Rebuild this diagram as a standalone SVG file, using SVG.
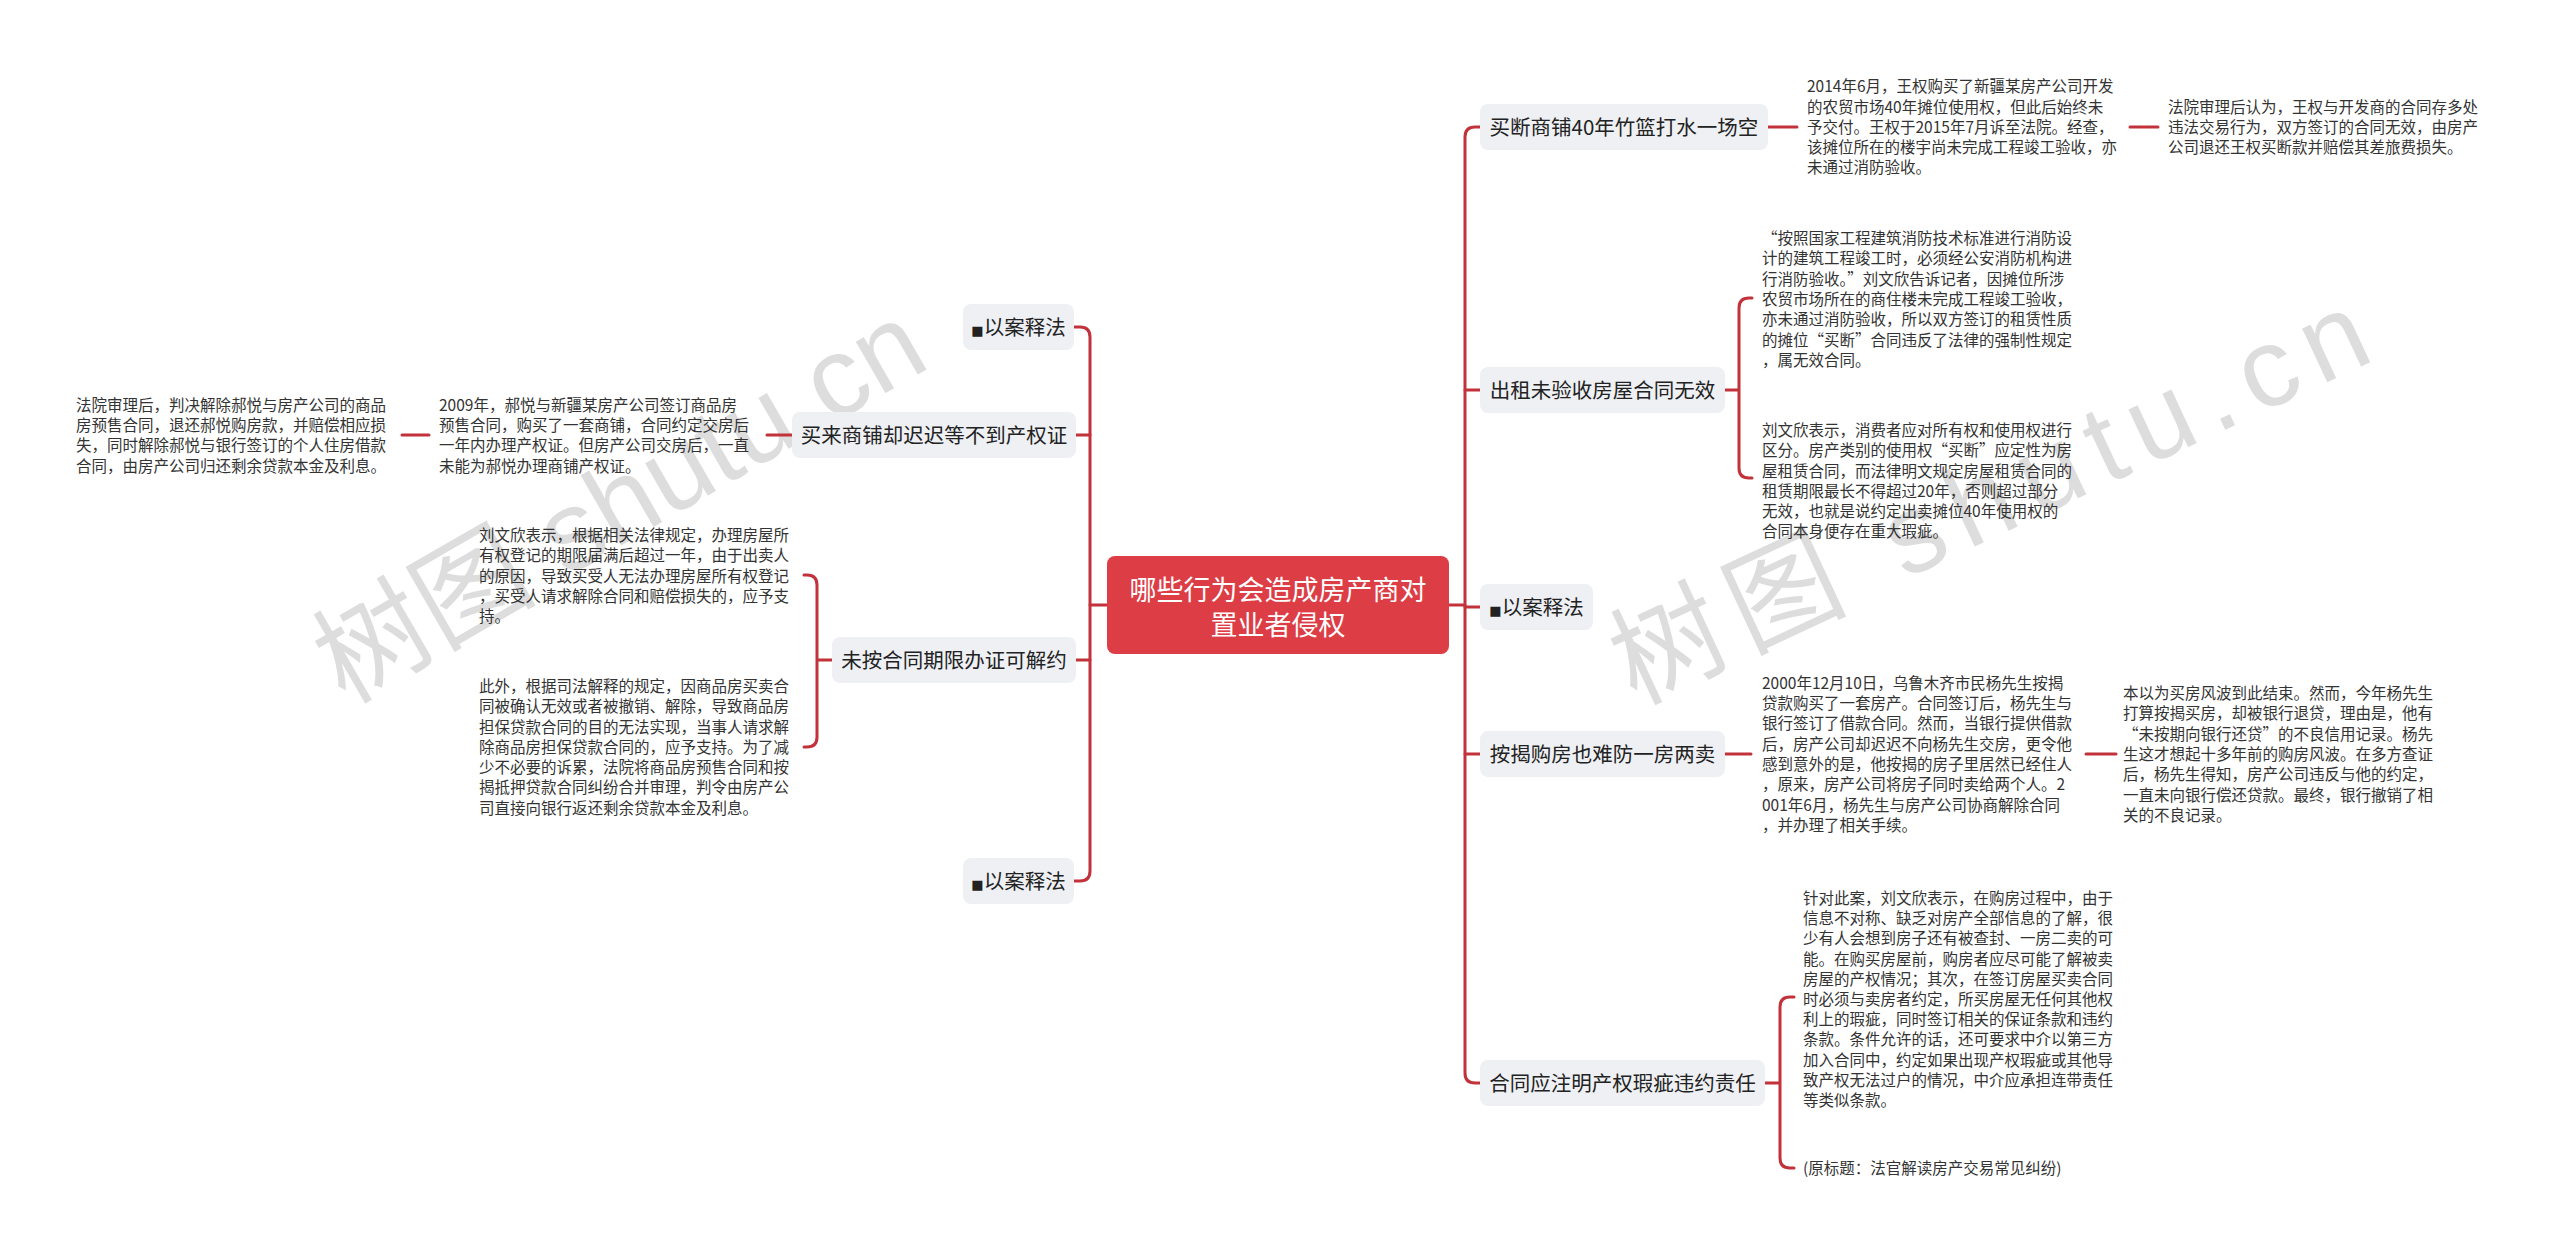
<svg xmlns="http://www.w3.org/2000/svg" width="2560" height="1255" viewBox="0 0 2560 1255">
<style>
.bg{fill:#ffffff}
.wm{font-family:"Liberation Sans","Noto Sans CJK SC",sans-serif;font-size:112px;fill:#d2d2d2;opacity:0.75}
.box{fill:#eef0f4}
.root{fill:#dd3d45}
.lbl{font-family:"Noto Sans CJK SC",sans-serif;font-size:20.5px;fill:#222;text-anchor:middle}
.sq{font-family:"DejaVu Sans",sans-serif;font-size:13px}
.rt{font-family:"Noto Sans CJK SC",sans-serif;font-size:27px;fill:#ffffff;text-anchor:middle}
.tx{font-family:"Noto Sans CJK SC",sans-serif;font-size:15.5px;fill:#333}
.ln{fill:none;stroke:#c1323b;stroke-width:3;stroke-linecap:round}
</style>
<rect class="bg" x="0" y="0" width="2560" height="1255"/>
<g id="watermarks">
<text class="wm" transform="translate(345,705) rotate(-30)">树图 shutu.cn</text>
<text class="wm" transform="translate(1635,705) rotate(-25)" letter-spacing="14">树图 shutu.cn</text>
</g>
<g id="connectors">
<path class="ln" d="M1449,605 H1465"/>
<path class="ln" d="M1480,127 H1475 Q1465,127 1465,137 V1073 Q1465,1083 1475,1083 H1480"/>
<path class="ln" d="M1465,390 H1480 M1465,607 H1480 M1465,754 H1480"/>
<path class="ln" d="M1107,605 H1090"/>
<path class="ln" d="M1074,327 H1080 Q1090,327 1090,337 V871 Q1090,881 1080,881 H1074"/>
<path class="ln" d="M1090,435 H1076 M1090,660 H1076"/>
<path class="ln" d="M1768,127 H1797 M2130,127 H2158"/>
<path class="ln" d="M1725,390 H1739 M1752,298 H1749 Q1739,298 1739,308 V468 Q1739,478 1749,478 H1752"/>
<path class="ln" d="M1725,754 H1751 M2086,754 H2116"/>
<path class="ln" d="M1765,1083 H1780 M1794,997 H1790 Q1780,997 1780,1007 V1158 Q1780,1168 1790,1168 H1794"/>
<path class="ln" d="M792,435 H767 M429,435 H402"/>
<path class="ln" d="M832,660 H817 M804,575 H807 Q817,575 817,585 V737 Q817,747 807,747 H804"/>
</g>
<g id="root">
<rect class="root" x="1107" y="556" width="342" height="98" rx="8"/>
<text class="rt" x="1278" y="600">哪些行为会造成房产商对</text>
<text class="rt" x="1278" y="635">置业者侵权</text>
</g>
<g id="n-a">
<rect class="box" x="1480" y="104" width="288" height="46" rx="8"/>
<text class="lbl" x="1624" y="135">买断商铺40年竹篮打水一场空</text>
</g>
<g id="n-a1" class="tx">
<text x="1807" y="92.4">2014年6月，王权购买了新疆某房产公司开发</text>
<text x="1807" y="112.6">的农贸市场40年摊位使用权，但此后始终未</text>
<text x="1807" y="132.8">予交付。王权于2015年7月诉至法院。经查，</text>
<text x="1807" y="153">该摊位所在的楼宇尚未完成工程竣工验收，亦</text>
<text x="1807" y="173.2">未通过消防验收。</text>
</g>
<g id="n-a2" class="tx">
<text x="2168" y="112.7">法院审理后认为，王权与开发商的合同存多处</text>
<text x="2168" y="132.9">违法交易行为，双方签订的合同无效，由房产</text>
<text x="2168" y="153.1">公司退还王权买断款并赔偿其差旅费损失。</text>
</g>
<g id="n-b">
<rect class="box" x="1480" y="367" width="245" height="46" rx="8"/>
<text class="lbl" x="1602.5" y="398">出租未验收房屋合同无效</text>
</g>
<g id="n-b1" class="tx">
<text x="1762" y="244">“按照国家工程建筑消防技术标准进行消防设</text>
<text x="1762" y="264.3">计的建筑工程竣工时，必须经公安消防机构进</text>
<text x="1762" y="284.6">行消防验收。”刘文欣告诉记者，因摊位所涉</text>
<text x="1762" y="304.9">农贸市场所在的商住楼未完成工程竣工验收，</text>
<text x="1762" y="325.2">亦未通过消防验收，所以双方签订的租赁性质</text>
<text x="1762" y="345.5">的摊位“买断”合同违反了法律的强制性规定</text>
<text x="1762" y="365.8">，属无效合同。</text>
</g>
<g id="n-b2" class="tx">
<text x="1762" y="435.9">刘文欣表示，消费者应对所有权和使用权进行</text>
<text x="1762" y="456.2">区分。房产类别的使用权“买断”应定性为房</text>
<text x="1762" y="476.5">屋租赁合同，而法律明文规定房屋租赁合同的</text>
<text x="1762" y="496.8">租赁期限最长不得超过20年，否则超过部分</text>
<text x="1762" y="517.1">无效，也就是说约定出卖摊位40年使用权的</text>
<text x="1762" y="537.4">合同本身便存在重大瑕疵。</text>
</g>
<g id="n-c">
<rect class="box" x="1480" y="584" width="113" height="46" rx="8"/>
<text class="lbl" x="1536.5" y="615"><tspan class="sq">■</tspan>以案释法</text>
</g>
<g id="n-d">
<rect class="box" x="1480" y="731" width="245" height="46" rx="8"/>
<text class="lbl" x="1602.5" y="762">按揭购房也难防一房两卖</text>
</g>
<g id="n-d1" class="tx">
<text x="1762" y="688.8">2000年12月10日，乌鲁木齐市民杨先生按揭</text>
<text x="1762" y="709.1">贷款购买了一套房产。合同签订后，杨先生与</text>
<text x="1762" y="729.4">银行签订了借款合同。然而，当银行提供借款</text>
<text x="1762" y="749.7">后，房产公司却迟迟不向杨先生交房，更令他</text>
<text x="1762" y="770">感到意外的是，他按揭的房子里居然已经住人</text>
<text x="1762" y="790.3">，原来，房产公司将房子同时卖给两个人。2</text>
<text x="1762" y="810.6">001年6月，杨先生与房产公司协商解除合同</text>
<text x="1762" y="830.9">，并办理了相关手续。</text>
</g>
<g id="n-d2" class="tx">
<text x="2123" y="699">本以为买房风波到此结束。然而，今年杨先生</text>
<text x="2123" y="719.3">打算按揭买房，却被银行退贷，理由是，他有</text>
<text x="2123" y="739.6">“未按期向银行还贷”的不良信用记录。杨先</text>
<text x="2123" y="759.9">生这才想起十多年前的购房风波。在多方查证</text>
<text x="2123" y="780.2">后，杨先生得知，房产公司违反与他的约定，</text>
<text x="2123" y="800.5">一直未向银行偿还贷款。最终，银行撤销了相</text>
<text x="2123" y="820.8">关的不良记录。</text>
</g>
<g id="n-e">
<rect class="box" x="1480" y="1060" width="285" height="46" rx="8"/>
<text class="lbl" x="1622.5" y="1091">合同应注明产权瑕疵违约责任</text>
</g>
<g id="n-e1" class="tx">
<text x="1803" y="904">针对此案，刘文欣表示，在购房过程中，由于</text>
<text x="1803" y="924.2">信息不对称、缺乏对房产全部信息的了解，很</text>
<text x="1803" y="944.4">少有人会想到房子还有被查封、一房二卖的可</text>
<text x="1803" y="964.6">能。在购买房屋前，购房者应尽可能了解被卖</text>
<text x="1803" y="984.8">房屋的产权情况；其次，在签订房屋买卖合同</text>
<text x="1803" y="1005">时必须与卖房者约定，所买房屋无任何其他权</text>
<text x="1803" y="1025.2">利上的瑕疵，同时签订相关的保证条款和违约</text>
<text x="1803" y="1045.4">条款。条件允许的话，还可要求中介以第三方</text>
<text x="1803" y="1065.6">加入合同中，约定如果出现产权瑕疵或其他导</text>
<text x="1803" y="1085.8">致产权无法过户的情况，中介应承担连带责任</text>
<text x="1803" y="1106">等类似条款。</text>
</g>
<g id="n-e2" class="tx">
<text x="1803" y="1174">(原标题：法官解读房产交易常见纠纷)</text>
</g>
<g id="n-f">
<rect class="box" x="963" y="304" width="111" height="46" rx="8"/>
<text class="lbl" x="1018.5" y="335"><tspan class="sq">■</tspan>以案释法</text>
</g>
<g id="n-g">
<rect class="box" x="792" y="412" width="284" height="46" rx="8"/>
<text class="lbl" x="934" y="443">买来商铺却迟迟等不到产权证</text>
</g>
<g id="n-g1" class="tx">
<text x="439" y="410.6">2009年，郝悦与新疆某房产公司签订商品房</text>
<text x="439" y="430.9">预售合同，购买了一套商铺，合同约定交房后</text>
<text x="439" y="451.2">一年内办理产权证。但房产公司交房后，一直</text>
<text x="439" y="471.5">未能为郝悦办理商铺产权证。</text>
</g>
<g id="n-g2" class="tx">
<text x="76" y="410.6">法院审理后，判决解除郝悦与房产公司的商品</text>
<text x="76" y="430.9">房预售合同，退还郝悦购房款，并赔偿相应损</text>
<text x="76" y="451.2">失，同时解除郝悦与银行签订的个人住房借款</text>
<text x="76" y="471.5">合同，由房产公司归还剩余贷款本金及利息。</text>
</g>
<g id="n-h">
<rect class="box" x="832" y="637" width="244" height="46" rx="8"/>
<text class="lbl" x="954" y="668">未按合同期限办证可解约</text>
</g>
<g id="n-h1" class="tx">
<text x="479" y="540.9">刘文欣表示，根据相关法律规定，办理房屋所</text>
<text x="479" y="561.2">有权登记的期限届满后超过一年，由于出卖人</text>
<text x="479" y="581.5">的原因，导致买受人无法办理房屋所有权登记</text>
<text x="479" y="601.8">，买受人请求解除合同和赔偿损失的，应予支</text>
<text x="479" y="622.1">持。</text>
</g>
<g id="n-h2" class="tx">
<text x="479" y="691.9">此外，根据司法解释的规定，因商品房买卖合</text>
<text x="479" y="712.2">同被确认无效或者被撤销、解除，导致商品房</text>
<text x="479" y="732.5">担保贷款合同的目的无法实现，当事人请求解</text>
<text x="479" y="752.8">除商品房担保贷款合同的，应予支持。为了减</text>
<text x="479" y="773.1">少不必要的诉累，法院将商品房预售合同和按</text>
<text x="479" y="793.4">揭抵押贷款合同纠纷合并审理，判令由房产公</text>
<text x="479" y="813.7">司直接向银行返还剩余贷款本金及利息。</text>
</g>
<g id="n-i">
<rect class="box" x="963" y="858" width="111" height="46" rx="8"/>
<text class="lbl" x="1018.5" y="889"><tspan class="sq">■</tspan>以案释法</text>
</g>
</svg>
